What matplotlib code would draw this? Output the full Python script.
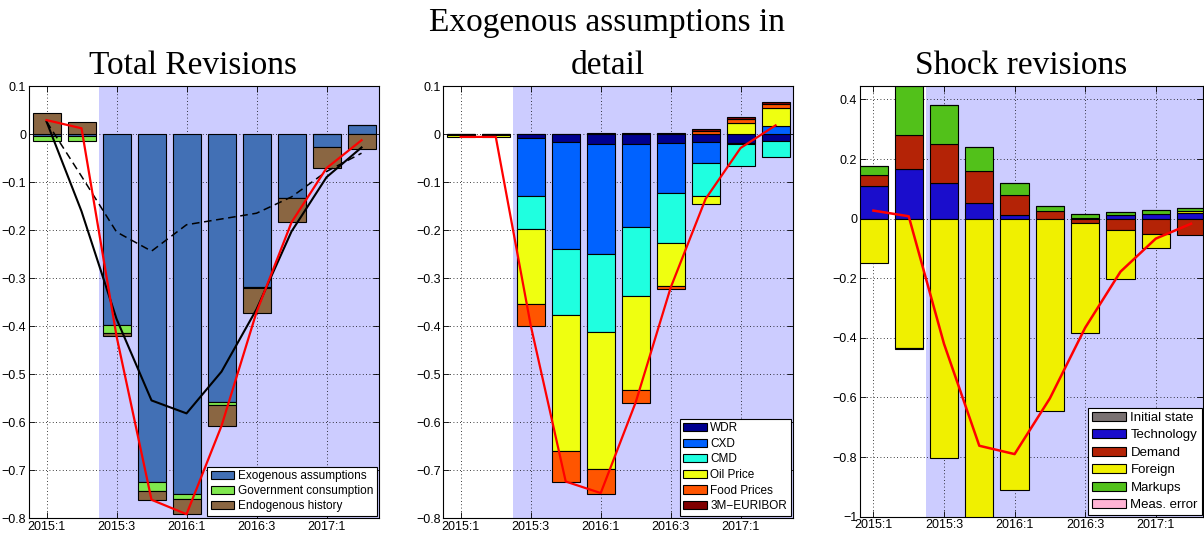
import matplotlib
matplotlib.use("Agg")
import matplotlib.pyplot as plt
from matplotlib.ticker import FuncFormatter
import numpy as np

plt.rcParams.update({
    "font.family": "Liberation Sans",
    "font.size": 9,
    "axes.linewidth": 0.8,
})

quarters = ["2015:1", "2015:2", "2015:3", "2015:4", "2016:1",
            "2016:2", "2016:3", "2016:4", "2017:1", "2017:2"]

# ---- panel 1: total revisions ----
exo = [-0.005, -0.005, -0.397, -0.724, -0.749, -0.559, -0.319, -0.133, -0.028, 0.019]
gov = [-0.009, -0.009, -0.018, -0.020, -0.011, -0.006, -0.001, -0.001, 0.0, 0.0]
endo = [0.043, 0.026, -0.006, -0.018, -0.032, -0.043, -0.052, -0.050, -0.043, -0.032]
total1 = [0.029, 0.012, -0.421, -0.762, -0.792, -0.608, -0.371, -0.184, -0.071, -0.013]
black_solid = [0.026, -0.161, -0.385, -0.555, -0.582, -0.495, -0.365, -0.203, -0.090, -0.028]
black_dash = [0.026, -0.088, -0.204, -0.244, -0.189, -0.177, -0.165, -0.131, -0.078, -0.040]

# ---- panel 2: exogenous assumptions in detail ----
wdr = [-0.001, -0.001, -0.009, -0.017, -0.021, -0.020, -0.019, -0.017, -0.019, -0.015]
cxd = [-0.001, -0.001, -0.120, -0.222, -0.229, -0.174, -0.103, -0.043, -0.002, 0.017]
cmd = [-0.001, -0.001, -0.068, -0.137, -0.162, -0.144, -0.105, -0.070, -0.046, -0.033]
oil = [-0.003, -0.003, -0.157, -0.285, -0.285, -0.196, -0.089, -0.015, 0.022, 0.037]
food = [0.0, 0.0, -0.045, -0.063, -0.053, -0.027, -0.006, 0.007, 0.010, 0.008]
euribor = [0.0, 0.0, 0.0, 0.0, 0.002, 0.002, 0.002, 0.003, 0.004, 0.004]
total2 = [-0.006, -0.006, -0.399, -0.724, -0.748, -0.559, -0.320, -0.135, -0.029, 0.018]

# ---- panel 3: shock revisions ----
init_state = [0.0, 0.0, 0.0, 0.0, 0.0, 0.0, 0.0, 0.0, 0.0, 0.0]
technology = [0.110, 0.168, 0.118, 0.054, 0.013, 0.0, 0.003, 0.011, 0.017, 0.020]
demand = [0.037, 0.114, 0.131, 0.107, 0.068, 0.024, -0.013, -0.037, -0.050, -0.054]
foreign = [-0.149, -0.435, -0.802, -1.003, -0.911, -0.647, -0.370, -0.165, -0.047, 0.004]
markups = [0.029, 0.162, 0.133, 0.080, 0.040, 0.020, 0.014, 0.010, 0.013, 0.013]
meas_error = [0.0, -0.003, 0.0, 0.0, 0.0, 0.0, 0.0, 0.0, 0.0, 0.0]
total3 = [0.027, 0.008, -0.420, -0.762, -0.790, -0.603, -0.366, -0.178, -0.067, -0.017]

SHADE = "#ccccff"


def fmt(v, _):
    v = round(v, 3)
    if abs(v) < 1e-9:
        return "0"
    return ("%g" % v).replace("-", "\u2212")


def stacked(ax, x, series, labels, colors):
    pos = np.zeros(len(x))
    neg = np.zeros(len(x))
    for vals, lab, col in zip(series, labels, colors):
        v = np.asarray(vals, float)
        bottom = np.where(v >= 0, pos, neg)
        ax.bar(x, v, 0.8, bottom=bottom, color=col, edgecolor="black",
               linewidth=0.8, label=lab, zorder=2)
        pos = pos + np.where(v >= 0, v, 0)
        neg = neg + np.where(v < 0, v, 0)


def style(ax, xlim, ylim, yticks):
    ax.axvspan(1.5, 12, color=SHADE, lw=0, zorder=0)
    ax.set_xlim(*xlim)
    ax.set_ylim(*ylim)
    ax.set_xticks(range(0, 10, 2))
    ax.set_xticklabels(quarters[::2])
    ax.set_yticks(yticks)
    ax.yaxis.set_major_formatter(FuncFormatter(fmt))
    ax.set_axisbelow(True)
    ax.grid(True, color="black", ls=(0, (1, 3)), lw=0.6)
    ax.tick_params(direction="in", top=True, right=True, length=4,
                   width=0.6, pad=2)


def legend(ax, size, spacing, hlen, bpad):
    leg = ax.legend(loc="lower right", fancybox=False, edgecolor="black",
                    framealpha=1, borderaxespad=bpad, labelspacing=spacing,
                    handlelength=hlen, handletextpad=0.3, borderpad=0.3,
                    fontsize=size)
    leg.get_frame().set_linewidth(0.8)


TITLE = dict(family="Liberation Serif", fontsize=24, pad=9, x=0.469)

fig = plt.figure(figsize=(12.04, 5.33), dpi=100)
x = np.arange(len(quarters))

# panel 1
ax1 = fig.add_axes([0.0241, 0.0281, 0.2907, 0.8105])
stacked(ax1, x, [exo, gov, endo],
        ["Exogenous assumptions", "Government consumption", "Endogenous history"],
        ["#4270b5", "#80e84e", "#8a6642"])
ax1.plot(x, black_solid, color="black", lw=1.5, zorder=3)
ax1.plot(x, black_dash, color="black", lw=1.1, ls=(0, (5, 3)), zorder=3)
ax1.plot(x, total1, color="red", lw=1.6, zorder=4)
style(ax1, (-0.5, 9.5), (-0.8, 0.1), np.arange(-0.8, 0.15, 0.1))
ax1.set_title("Total Revisions", **TITLE)
legend(ax1, 8.5, 0.25, 2.0, 0.2)

# panel 2
ax2 = fig.add_axes([0.3682, 0.0281, 0.2905, 0.8105])
stacked(ax2, x, [wdr, cxd, cmd, oil, food, euribor],
        ["WDR", "CXD", "CMD", "Oil Price", "Food Prices", "3M\u2212EURIBOR"],
        ["#00008f", "#0062ff", "#1fffe0", "#efff10", "#ff5500", "#800000"])
ax2.plot(x, total2, color="red", lw=1.6, zorder=4)
style(ax2, (-0.5, 9.5), (-0.8, 0.1), np.arange(-0.8, 0.15, 0.1))
ax2.set_title("Exogenous assumptions in\ndetail", linespacing=1.5, **TITLE)
legend(ax2, 8.5, 0.3, 2.0, 0.2)

# panel 3
ax3 = fig.add_axes([0.7143, 0.0306, 0.2849, 0.808])
stacked(ax3, x, [init_state, technology, demand, foreign, markups, meas_error],
        ["Initial state", "Technology", "Demand", "Foreign", "Markups", "Meas. error"],
        ["#7a7272", "#1a0dcc", "#b42306", "#f0f000", "#52c11a", "#ffb3d4"])
ax3.plot(x, total3, color="red", lw=1.8, zorder=4)
style(ax3, (-0.38, 9.34), (-1.0, 0.445), np.arange(-1.0, 0.45, 0.2))
ax3.set_title("Shock revisions", **TITLE)
legend(ax3, 9.5, 0.4, 2.6, 0.1)

fig.savefig("out.png", dpi=100)
